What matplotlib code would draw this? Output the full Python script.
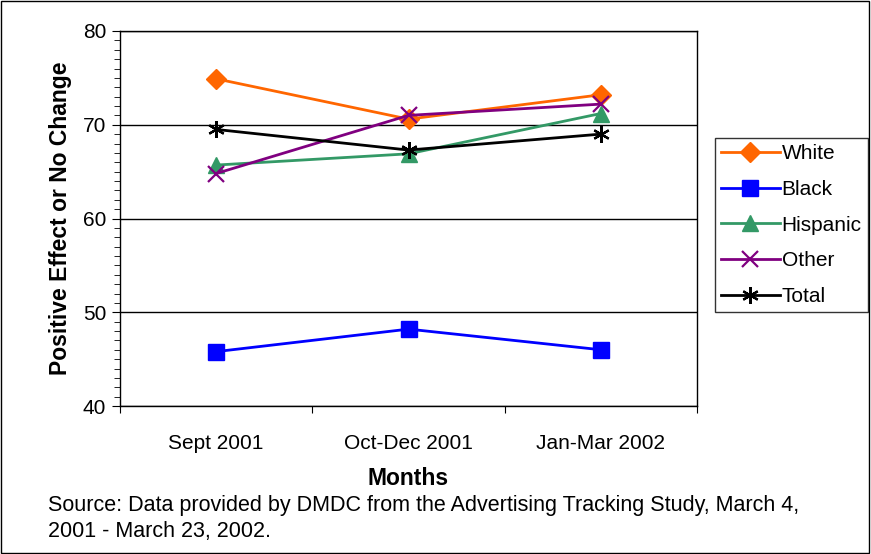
import matplotlib
matplotlib.use('Agg')
import matplotlib.pyplot as plt
from matplotlib.ticker import MultipleLocator
from matplotlib.patches import Rectangle

plt.rcParams['font.family'] = ['Liberation Sans', 'DejaVu Sans']

# data
months = ['Sept 2001', 'Oct-Dec 2001', 'Jan-Mar 2002']
white = [74.9, 70.6, 73.2]
black = [45.8, 48.2, 46.0]
hispanic = [65.7, 66.9, 71.2]
other = [64.8, 71.0, 72.2]
total = [69.5, 67.3, 69.0]

series = [
    ('White', white, '#FF6600', 'D', 10),
    ('Black', black, '#0000FF', 's', 11),
    ('Hispanic', hispanic, '#339966', '^', 11),
    ('Other', other, '#800080', 'x', 11),
    ('Total', total, '#000000', (6, 2, 0), 12),
]

fig = plt.figure(figsize=(8.71, 5.54), dpi=100)
ax = fig.add_axes([120 / 871, 1 - 406 / 554, 577 / 871, 375 / 554])

x = [i + 0.5 for i in range(len(months))]
for name, vals, col, mk, ms in series:
    ax.plot(x, vals, color=col, marker=mk, markersize=ms, linewidth=2,
            markeredgewidth=1.6 if mk == 'x' or isinstance(mk, tuple) else 1,
            label=name, zorder=3)

ax.set_xlim(0, 3)
ax.set_ylim(40, 80)
ax.set_xticks([0, 1, 2, 3])
ax.set_xticklabels([])
ax.set_xticks(x, minor=True)
ax.set_xticklabels(months, minor=True, fontsize=15)
ax.tick_params(axis='x', which='minor', length=0, pad=20)
ax.tick_params(axis='x', which='major', length=5, direction='out')
ax.yaxis.set_major_locator(MultipleLocator(10))
ax.yaxis.set_minor_locator(MultipleLocator(1))
ax.tick_params(axis='y', which='major', length=6, labelsize=15, pad=4)
ax.tick_params(axis='y', which='minor', length=4)
ax.grid(axis='y', which='major', color='black', linewidth=1)
for s in ax.spines.values():
    s.set_linewidth(1)

ax.set_xlabel('Months', fontsize=16.5, fontweight='bold', labelpad=10)
ax.set_ylabel('Positive Effect or No Change', fontsize=16.5, fontweight='bold', labelpad=8)

leg = ax.legend(loc='upper left', bbox_to_anchor=(715 / 871, 1 - 138 / 554),
                bbox_transform=fig.transFigure, fontsize=15, frameon=True,
                fancybox=False, edgecolor='black', handlelength=2.8,
                labelspacing=0.8, borderpad=0.3, handletextpad=0.1,
                borderaxespad=0)
leg.get_frame().set_linewidth(1)

fig.text(48 / 871, 1 - 505 / 554, 'Source: Data provided by DMDC from the Advertising Tracking Study, March 4,',
         fontsize=15.5, va='center', ha='left')
fig.text(48 / 871, 1 - 531 / 554, '2001 - March 23, 2002.', fontsize=15.5, va='center', ha='left')

fig.patches.append(Rectangle((0.001, 0.001), 0.997, 0.997, transform=fig.transFigure,
                             fill=False, edgecolor='black', linewidth=1))

fig.savefig('out.png', dpi=100)
